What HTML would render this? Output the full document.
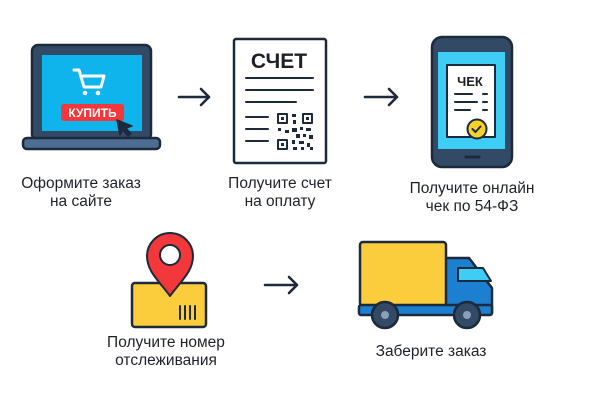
<!DOCTYPE html>
<html><head><meta charset="utf-8"><style>
html,body{margin:0;padding:0;background:#fff;width:600px;height:400px;overflow:hidden}
text{font-family:"Liberation Sans",sans-serif;fill:#1e2227}
</style></head><body>
<svg width="600" height="400" viewBox="0 0 600 400" xmlns="http://www.w3.org/2000/svg">
<g stroke-linecap="round" stroke-linejoin="round">
<!-- Laptop -->
<rect x="32" y="45" width="119" height="95" rx="6" fill="#334a66" stroke="#1c2a3b" stroke-width="2.5"/>
<rect x="42" y="55" width="100" height="76" fill="#10b4ec"/>
<rect x="23" y="138" width="137" height="11" rx="4" fill="#4d6d93" stroke="#1c2a3b" stroke-width="2.5"/>
<g fill="none" stroke="#fff" stroke-width="3"><path d="M74 70h5l5 17h17l3-11h-21"/></g>
<circle cx="85" cy="93" r="2.3" fill="#fff"/><circle cx="98" cy="93" r="2.3" fill="#fff"/>
<rect x="61" y="104" width="63" height="17" rx="3" fill="#f5373b"/>
<text x="92.5" y="117" font-size="12" font-weight="bold" text-anchor="middle" style="fill:#fff">КУПИТЬ</text>
<path d="M117 120 L132 126 L126 128 L131 134 L128 136 L123 130 L120 135 Z" fill="#1c2a3b" stroke="#1c2a3b" stroke-width="1.5"/>
<!-- arrow 1 -->
<g fill="none" stroke="#1c2a3b" stroke-width="2.6"><path d="M179 97h30M201 89l8 8-8 8"/></g>
<!-- Document -->
<rect x="234" y="39" width="92" height="124" rx="2" fill="#fff" stroke="#1c2a3b" stroke-width="2.5"/>
<text x="279" y="68" font-size="21" font-weight="bold" text-anchor="middle">СЧЕТ</text>
<g stroke="#1c2a3b" stroke-width="2"><path d="M246 78h67M246 90h67M246 102h50M246 117h22M246 129h22M246 141h22"/></g>
<g fill="none" stroke="#1c2a3b" stroke-width="2">
<rect x="278" y="114" width="9" height="9"/><rect x="303" y="114" width="9" height="9"/><rect x="278" y="140" width="9" height="9"/></g>
<g fill="#1c2a3b"><rect x="281" y="117" width="3" height="3"/><rect x="306" y="117" width="3" height="3"/><rect x="281" y="143" width="3" height="3"/>
<rect x="292" y="114" width="4" height="3"/><rect x="293" y="120" width="3" height="4"/><rect x="278" y="128" width="3" height="3"/><rect x="285" y="130" width="4" height="3"/>
<rect x="292" y="128" width="5" height="4"/><rect x="300" y="127" width="3" height="3"/><rect x="306" y="128" width="5" height="3"/><rect x="296" y="134" width="4" height="4"/>
<rect x="303" y="134" width="3" height="3"/><rect x="309" y="135" width="4" height="4"/><rect x="292" y="140" width="3" height="4"/><rect x="299" y="141" width="5" height="3"/>
<rect x="307" y="143" width="3" height="4"/><rect x="293" y="147" width="4" height="3"/><rect x="301" y="147" width="3" height="3"/><rect x="310" y="147" width="3" height="3"/></g>
<!-- arrow 2 -->
<g fill="none" stroke="#1c2a3b" stroke-width="2.6"><path d="M365 97h32M389 89l8 8-8 8"/></g>
<!-- Phone -->
<rect x="432" y="37" width="80" height="130" rx="10" fill="#334a66" stroke="#1c2a3b" stroke-width="2.5"/>
<rect x="438" y="52" width="67" height="97" fill="#3ecdf5"/>
<rect x="447" y="65" width="48" height="72" fill="#fff" stroke="#1c2a3b" stroke-width="2"/>
<text x="470" y="86" font-size="13" font-weight="bold" text-anchor="middle">ЧЕК</text>
<g stroke="#1c2a3b" stroke-width="2"><path d="M455 94h17M455 102h22M455 110h15M483 94h4M483 102h4M483 110h4"/></g>
<circle cx="477" cy="129" r="9.5" fill="#f8d12b" stroke="#1c2a3b" stroke-width="2"/>
<path d="M472.5 129l3 3 5-5.5" fill="none" stroke="#1c2a3b" stroke-width="2"/>
<path d="M466 157h13" stroke="#1c2a3b" stroke-width="3"/>
<!-- Pin + box -->
<rect x="132" y="283" width="74" height="44" rx="3" fill="#fbcd3c" stroke="#1c2a3b" stroke-width="2.5"/>
<g stroke="#1c2a3b" stroke-width="2"><path d="M180 306v13M185 306v13M190 306v13M195 306v13"/></g>
<path d="M170 296 C160 282 147 272 147 256 A23 23 0 0 1 193 256 C193 272 180 282 170 296 Z" fill="#f2383a" stroke="#1c2a3b" stroke-width="2"/>
<circle cx="170" cy="255" r="10" fill="#fff" stroke="#1c2a3b" stroke-width="2"/>
<!-- arrow 3 -->
<g fill="none" stroke="#1c2a3b" stroke-width="2.6"><path d="M265 285h32M289 277l8 8-8 8"/></g>
<!-- Truck -->
<path d="M445 258h24l23 30v25h-47z" fill="#1c7fd0" stroke="#1c2a3b" stroke-width="2.5"/>
<path d="M458 268h25l8 13h-33z" fill="#3ecdf5" stroke="#1c2a3b" stroke-width="2"/>
<rect x="360" y="242" width="86" height="64" rx="3" fill="#fbcd3c" stroke="#1c2a3b" stroke-width="2.5"/>
<rect x="359" y="305" width="133" height="10" rx="2" fill="#1c7fd0" stroke="#1c2a3b" stroke-width="2.5"/>
<circle cx="385" cy="315" r="13" fill="#334a66" stroke="#1c2a3b" stroke-width="2.5"/><circle cx="385" cy="315" r="4" fill="#8aa0b8"/>
<circle cx="467" cy="315" r="13" fill="#334a66" stroke="#1c2a3b" stroke-width="2.5"/><circle cx="467" cy="315" r="4" fill="#8aa0b8"/>
</g>
<g font-size="15.5" text-anchor="middle">
<text x="81" y="188">Оформите заказ</text><text x="81" y="206">на сайте</text>
<text x="280" y="188">Получите счет</text><text x="280" y="206">на оплату</text>
<text x="472" y="193">Получите онлайн</text><text x="472" y="211">чек по 54-ФЗ</text>
<text x="166" y="347">Получите номер</text><text x="166" y="365">отслеживания</text>
<text x="431" y="356">Заберите заказ</text>
</g>
</svg>
</body></html>
